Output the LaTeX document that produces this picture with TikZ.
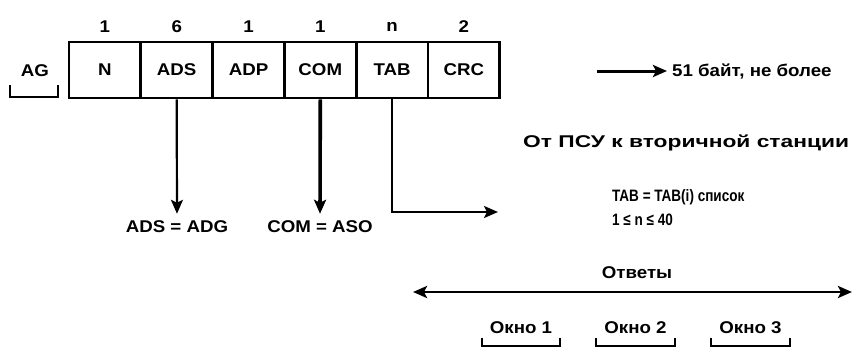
\documentclass[tikz,border=0pt]{standalone}
\usepackage{fontspec}
\setmainfont{Liberation Sans}
\newfontfamily\diagfont[FakeStretch=1.1]{Liberation Sans}
\newfontfamily\widefont[FakeStretch=1.34]{Liberation Sans}
\newfontfamily\narrowfont[FakeStretch=0.82]{Liberation Sans}
\usetikzlibrary{arrows.meta, positioning, calc}

\tikzset{
  txt/.style={font=\diagfont\fontsize{17}{19}\selectfont\bfseries, inner sep=2pt},
  field/.style={draw, line width=2.8pt, minimum width=71.8pt, minimum height=56pt, txt},
  tip/.style={-{Stealth[length=14pt, width=12pt, inset=3pt]}},
  brace/.style={line width=2.4pt}
}

\begin{document}
\begin{tikzpicture}[x=1pt, y=-1pt]
    \useasboundingbox (0,0) rectangle (852,348);

    % Frame fields with their lengths
    \foreach \i/\name/\cnt in {0/N/1, 1/ADS/6, 2/ADP/1, 3/COM/1, 4/TAB/n, 5/CRC/2} {
        \node[field] (\name) at (104.9+71.8*\i, 70) {\name};
        \node[txt] (\name cnt) at (104.9+71.8*\i, 27) {\cnt};
    }

    % Address group
    \node[txt] (AG) at (35, 71) {AG};
    \draw[brace] (10,85) -- (10,97) -- (58,97) -- (58,85);

    % Length note
    \coordinate (sizeA) at (597, 71);
    \node[txt, anchor=west] (sizeTxt) at (670, 71) {51 байт, не более};
    \draw[line width=3pt, tip, shorten >=3pt] (sizeA) -- (sizeTxt.west);

    \node[txt, font=\widefont\fontsize{17}{19}\selectfont\bfseries, anchor=west] (dir) at (521, 143) {От ПСУ к вторичной станции};

    % Field explanations
    \node[txt] (adsEq) at (177, 227) {ADS = ADG};
    \node[txt] (comEq) at (320, 227) {COM = ASO};
    \draw[line width=2.2pt, tip, shorten >=5pt] (ADS.south) -- (adsEq.north);
    \draw[line width=3.6pt, tip, shorten >=5pt] (COM.south) -- (comEq.north);

    \coordinate (tabEnd) at (498, 212);
    \draw[line width=2.2pt, tip] (TAB.south) |- (tabEnd);
    \node[txt, font=\narrowfont\fontsize{16.5}{19}\selectfont\bfseries, anchor=west] (tabList) at (610, 197) {TAB = TAB(i) список};
    \node[txt, font=\narrowfont\fontsize{16.5}{19}\selectfont\bfseries, anchor=west] (tabRange) at (610, 220) {1 ≤ n ≤ 40};

    % Responses
    \node[txt] (resp) at (637, 273) {Ответы};
    \coordinate (respL) at (413, 292);
    \coordinate (respR) at (852, 292);
    \draw[line width=2.8pt, {Stealth[length=14pt, width=12pt, inset=3pt]}-{Stealth[length=14pt, width=12pt, inset=3pt]}] (respL) -- (respR);

    % Windows
    \foreach \j/\xa/\xb in {1/482/560, 2/596/675, 3/711/790} {
        \node[txt] (win\j) at ({(\xa+\xb)/2}, 328) {Окно \j};
        \draw[brace] (\xa,338) -- (\xa,346) -- (\xb,346) -- (\xb,338);
    }
\end{tikzpicture}
\end{document}
